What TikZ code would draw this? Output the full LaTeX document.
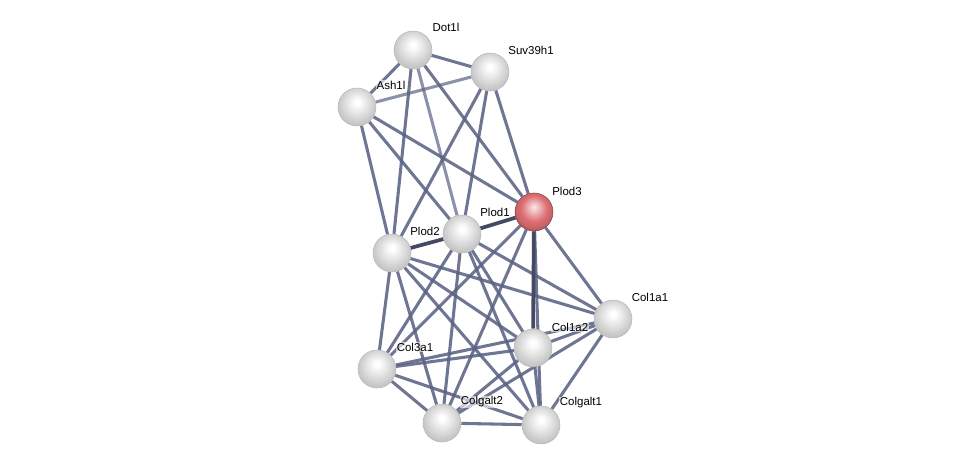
\documentclass[tikz,border=0pt]{standalone}
\usepackage{fontspec}
\setmainfont{Liberation Sans}
\usepackage{tikz}
\usetikzlibrary{positioning}
\definecolor{stredge}{HTML}{5A6384}
\definecolor{strred}{HTML}{DE6E72}
\pgfdeclarelayer{background}
\pgfsetlayers{background,main}
\pgfdeclareradialshading{greyball}{\pgfqpoint{0bp}{7bp}}{color(0bp)=(white); color(3bp)=(white); color(10bp)=(gray!14); color(17bp)=(gray!28); color(24bp)=(gray!42); color(29bp)=(gray!50); color(50bp)=(gray!50)}
\pgfdeclareradialshading{redball}{\pgfqpoint{0bp}{7bp}}{color(0bp)=(strred!15!white); color(3bp)=(strred!30!white); color(10bp)=(strred!65!white); color(17bp)=(strred); color(24bp)=(strred!90!black); color(29bp)=(strred!75!black); color(50bp)=(strred!75!black)}

\begin{document}
\begin{tikzpicture}[x=0.75pt, y=-0.75pt,
  protein/.style={circle, minimum size=28.5pt, inner sep=0pt, shading=greyball, draw=gray!55, line width=0.4pt},
  query/.style={protein, shading=redball, draw=strred!60!black},
  plabel/.style={font=\fontsize{8.6}{10}\selectfont, text=black, inner sep=0.5pt, fill=white, fill opacity=0.6, text opacity=1},
  link/.style={stredge, line width=2.3pt, opacity=0.88},
  weaklink/.style={link, opacity=0.7},
  stronglink/.style={link, line width=2.8pt, draw=stredge!75!black, opacity=1},
]
  \useasboundingbox (0,0) rectangle (975,470);

  % Proteins
  \node[protein] (dot1l)    at (413,50)  {};
  \node[protein] (suv39h1)  at (490,72)  {};
  \node[protein] (ash1l)    at (357,107) {};
  \node[query]   (plod3)    at (534,212) {};
  \node[protein] (plod1)    at (462,234) {};
  \node[protein] (plod2)    at (392,253) {};
  \node[protein] (col1a1)   at (613,319) {};
  \node[protein] (col1a2)   at (533,348) {};
  \node[protein] (col3a1)   at (377,369) {};
  \node[protein] (colgalt2) at (442,423) {};
  \node[protein] (colgalt1) at (541,425) {};

  % Labels
  \foreach \id/\x/\y/\name in {dot1l/446/27/Dot1l, suv39h1/531/50/Suv39h1, ash1l/391/85/Ash1l,
      plod3/567/191/Plod3, plod1/495/212/Plod1, plod2/425/231/Plod2, col1a1/650/297/Col1a1,
      col1a2/570/327/Col1a2, col3a1/415/347/Col3a1, colgalt2/482/402/Colgalt2, colgalt1/581/403/Colgalt1} {
    \node[plabel] (\id-lbl) at (\x,\y) {\name};
  }

  % Interactions
  \begin{pgfonlayer}{background}
    \foreach \a/\b in {dot1l/suv39h1, dot1l/ash1l, dot1l/plod2, dot1l/plod3,
        suv39h1/plod2, suv39h1/plod1, suv39h1/plod3, ash1l/plod2, ash1l/plod1, ash1l/plod3,
        plod2/col3a1, plod2/colgalt2, plod2/colgalt1, plod2/col1a2, plod2/col1a1,
        plod1/col3a1, plod1/colgalt2, plod1/colgalt1, plod1/col1a2, plod1/col1a1,
        plod3/col3a1, plod3/colgalt2, plod3/colgalt1, plod3/col1a1,
        col3a1/col1a2, col3a1/col1a1, col3a1/colgalt2, col3a1/colgalt1,
        colgalt2/colgalt1, colgalt2/col1a2, colgalt2/col1a1,
        colgalt1/col1a2, colgalt1/col1a1, col1a2/col1a1} {
      \draw[link] (\a) -- (\b);
    }
    \draw[weaklink] (suv39h1) -- (ash1l);
    \draw[weaklink] (dot1l) -- (plod1);
    \draw[stronglink] (plod2) -- (plod1);
    \draw[stronglink] (plod1) -- (plod3);
    \draw[stronglink] (plod3) -- (col1a2);
  \end{pgfonlayer}
\end{tikzpicture}
\end{document}
